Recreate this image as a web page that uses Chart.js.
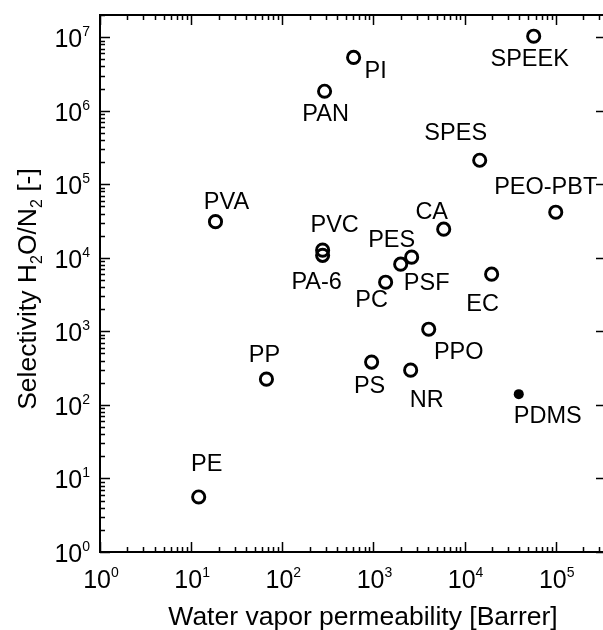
<!DOCTYPE html>
<html>
<head>
<meta charset="utf-8">
<script src="https://cdn.jsdelivr.net/npm/chart.js@4.4.1/dist/chart.umd.min.js"></script>
<style>
  html, body { margin: 0; padding: 0; background: #fff; }
  #wrap { width: 603px; height: 630px; }
</style>
</head>
<body>
<div id="wrap"><canvas id="selectivity_chart" width="603" height="630"></canvas></div>
<script>
// Membrane materials: water vapor permeability (Barrer) vs H2O/N2 selectivity
const materials = ['PE', 'PP', 'PVA', 'PVC', 'PA-6', 'PAN', 'PI', 'SPEEK', 'SPES', 'PEO-PBT',
    'CA', 'PES', 'PSF', 'PC', 'EC', 'PPO', 'PS', 'NR', 'PDMS'];
const permeability = [12.1, 67, 18.5, 277, 277, 291, 606, 57300, 14650, 100000,
    5900, 2625, 1990, 1360, 19800, 4040, 955, 2560, 39300];
const selectivity = [5.6, 224, 31000, 12700, 10800, 1.84e6, 5.3e6, 1.03e7, 2.12e5, 41700,
    24500, 10200, 8190, 4660, 5990, 1070, 382, 297, 140];
// drawn with a filled marker
const filledMaterials = ['PDMS'];

// axis ranges and decade tick labels
const xRange = [1, 3.3e5];
const yRange = [1, 2e7];
const xDecades = [0, 1, 2, 3, 4, 5];
const yDecades = [0, 1, 2, 3, 4, 5, 6, 7];

// where each name sits relative to its marker (text centre, px)
const labelOffset = {
    'PE': [8, -34], 'PP': [-2, -26], 'PVA': [11, -21], 'PVC': [12, -27], 'PA-6': [-6, 25],
    'PAN': [1, 21], 'PI': [22, 12], 'SPEEK': [-4, 21], 'SPES': [-24, -29], 'PEO-PBT': [-10, -27],
    'CA': [-12, -19], 'PES': [-20, -19], 'PSF': [26, 17], 'PC': [-14, 16], 'EC': [-9, 28],
    'PPO': [30, 21], 'PS': [-2, 23], 'NR': [16, 28], 'PDMS': [29, 20]
};

const FONT = '"Liberation Sans", Arial, sans-serif';

function points(filled) {
    const out = [];
    for (let i = 0; i < materials.length; i++) {
        if (filledMaterials.includes(materials[i]) === filled) {
            out.push({ x: permeability[i], y: selectivity[i], name: materials[i] });
        }
    }
    return out;
}

function minorValues(lo, hi) {
    const vals = [];
    for (let e = Math.floor(Math.log10(lo)); e <= Math.ceil(Math.log10(hi)); e++) {
        for (let k = 1; k <= 9; k++) {
            const v = k * Math.pow(10, e);
            if (v >= lo && v <= hi) vals.push({ v: v, major: k === 1 });
        }
    }
    return vals;
}

// frame, inward ticks, 10^n labels, titles and point names
const decorations = {
    id: 'decorations',
    afterDatasetsDraw(chart) {
        const ctx = chart.ctx;
        const area = chart.chartArea;
        const xs = chart.scales.x;
        const ys = chart.scales.y;
        ctx.save();
        ctx.strokeStyle = '#000';
        ctx.fillStyle = '#000';

        // frame (right side falls at the canvas edge)
        ctx.lineWidth = 2;
        ctx.beginPath();
        ctx.moveTo(area.right + 2, area.top);
        ctx.lineTo(area.left, area.top);
        ctx.lineTo(area.left, area.bottom);
        ctx.lineTo(area.right + 2, area.bottom);
        ctx.stroke();

        // ticks
        ctx.lineWidth = 1.5;
        ctx.beginPath();
        for (const t of minorValues(xRange[0], xRange[1])) {
            const px = Math.round(xs.getPixelForValue(t.v)) + 0.5;
            const len = t.major ? 10 : 5;
            ctx.moveTo(px, area.bottom);
            ctx.lineTo(px, area.bottom - len);
            ctx.moveTo(px, area.top);
            ctx.lineTo(px, area.top + len);
        }
        for (const t of minorValues(yRange[0], yRange[1])) {
            const py = Math.round(ys.getPixelForValue(t.v)) + 0.5;
            const len = t.major ? 10 : 5;
            ctx.moveTo(area.left, py);
            ctx.lineTo(area.left + len, py);
            if (t.major) {
                ctx.moveTo(area.right, py);
                ctx.lineTo(area.right - 7, py);
            }
        }
        ctx.stroke();

        // decade labels
        ctx.textBaseline = 'alphabetic';
        ctx.textAlign = 'left';
        for (const d of xDecades) {
            const px = xs.getPixelForValue(Math.pow(10, d));
            ctx.font = '14px ' + FONT;
            const sw = ctx.measureText(String(d)).width;
            ctx.font = '25px ' + FONT;
            const w = ctx.measureText('10').width;
            const left = px - (w + sw) / 2 + 1;
            ctx.fillText('10', left, area.bottom + 36);
            ctx.font = '14px ' + FONT;
            ctx.fillText(String(d), left + w, area.bottom + 25);
        }
        for (const d of yDecades) {
            const py = ys.getPixelForValue(Math.pow(10, d));
            ctx.font = '14px ' + FONT;
            const sw = ctx.measureText(String(d)).width;
            const sx = 90 - sw;
            ctx.fillText(String(d), sx, py - 1);
            ctx.font = '25px ' + FONT;
            const w = ctx.measureText('10').width;
            ctx.fillText('10', sx - w, py + 10);
        }

        // x title
        ctx.font = '26.5px ' + FONT;
        ctx.textAlign = 'center';
        ctx.fillText('Water vapor permeability [Barrer]', 363, 625);

        // y title with subscripts, rotated
        const parts = [['Selectivity H', 26.5, 0], ['2', 16, 6], ['O/N', 26.5, 0], ['2', 16, 6], [' [-]', 26.5, 0]];
        let total = 0;
        for (const p of parts) {
            ctx.font = p[1] + 'px ' + FONT;
            total += ctx.measureText(p[0]).width;
        }
        ctx.save();
        ctx.translate(36, 289);
        ctx.rotate(-Math.PI / 2);
        ctx.textAlign = 'left';
        let cx = -total / 2;
        for (const p of parts) {
            ctx.font = p[1] + 'px ' + FONT;
            ctx.fillText(p[0], cx, p[2]);
            cx += ctx.measureText(p[0]).width;
        }
        ctx.restore();

        // point names
        ctx.font = '23.5px ' + FONT;
        ctx.textAlign = 'center';
        chart.data.datasets.forEach(function (ds, di) {
            const meta = chart.getDatasetMeta(di);
            ds.data.forEach(function (pt, i) {
                const el = meta.data[i];
                const off = labelOffset[pt.name] || [0, -20];
                ctx.fillText(pt.name, el.x + off[0], el.y + off[1] + 8.4);
            });
        });
        ctx.restore();
    }
};

const config = {
    type: 'scatter',
    data: {
        datasets: [
            {
                label: 'open',
                data: points(false),
                pointStyle: 'circle',
                pointRadius: 6.1,
                pointHoverRadius: 6.1,
                borderWidth: 2.9,
                borderColor: '#000',
                backgroundColor: 'rgba(0,0,0,0)'
            },
            {
                label: 'filled',
                data: points(true),
                pointStyle: 'circle',
                pointRadius: 5,
                pointHoverRadius: 5,
                borderWidth: 0,
                borderColor: '#000',
                backgroundColor: '#000'
            }
        ]
    },
    options: {
        responsive: false,
        animation: false,
        devicePixelRatio: 1,
        layout: {
            autoPadding: false,
            padding: { left: 100, top: 15, right: 0, bottom: 78 }
        },
        plugins: {
            legend: { display: false },
            tooltip: { enabled: false }
        },
        scales: {
            x: {
                type: 'logarithmic',
                display: false,
                min: xRange[0],
                max: xRange[1]
            },
            y: {
                type: 'logarithmic',
                display: false,
                min: yRange[0],
                max: yRange[1]
            }
        }
    },
    plugins: [decorations]
};

new Chart(document.getElementById('selectivity_chart'), config);
</script>
</body>
</html>
